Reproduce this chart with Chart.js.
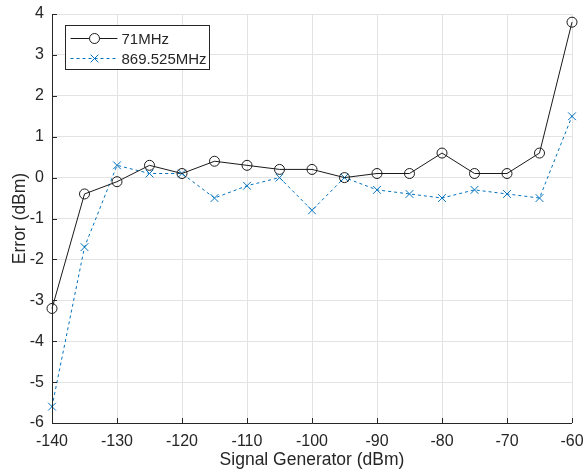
<!DOCTYPE html>
<html>
<head>
<meta charset="utf-8">
<script src="https://cdn.jsdelivr.net/npm/chart.js@4"></script>
<style>
  html, body { margin: 0; padding: 0; background: #fff; }
  #wrap { width: 586px; height: 475px; position: relative; }
</style>
</head>
<body>
<div id="wrap"><canvas id="errChart"></canvas></div>
<script>
// signal generator levels (dBm)
const levels = [-140, -135, -130, -125, -120, -115, -110, -105, -100, -95, -90, -85, -80, -75, -70, -65, -60];
// measured error (dBm)
const err71 = [-3.2, -0.4, -0.1, 0.3, 0.1, 0.4, 0.3, 0.2, 0.2, 0.0, 0.1, 0.1, 0.6, 0.1, 0.1, 0.6, 3.8];
const err869 = [-5.6, -1.7, 0.3, 0.1, 0.1, -0.5, -0.2, 0.0, -0.8, 0.0, -0.3, -0.4, -0.5, -0.3, -0.4, -0.5, 1.5];
const seriesNames = ['71MHz', '869.525MHz'];

const axisColor = '#262626';
const gridColor = '#e3e3e3';
const blue = '#0072BD';
const font = "'Liberation Sans', Arial, sans-serif";

Chart.defaults.font.family = font;
Chart.defaults.color = axisColor;

const toPts = (vals) => vals.map((v, i) => ({ x: levels[i], y: v }));

// MATLAB-like frame: inward ticks, axis lines, boxed legend
const matlabFrame = {
  id: 'matlabFrame',
  afterDatasetsDraw(chart) {
    const { ctx, chartArea: a, scales: { x, y } } = chart;
    ctx.save();
    ctx.strokeStyle = axisColor;
    ctx.lineWidth = 1;
    ctx.beginPath();
    ctx.moveTo(a.left + 0.5, a.top);
    ctx.lineTo(a.left + 0.5, a.bottom + 0.5);
    ctx.lineTo(a.right, a.bottom + 0.5);
    x.ticks.forEach(t => {
      const px = Math.round(x.getPixelForValue(t.value)) + 0.5;
      ctx.moveTo(px, a.bottom);
      ctx.lineTo(px, a.bottom - 5);
    });
    y.ticks.forEach(t => {
      const py = Math.round(y.getPixelForValue(t.value)) + 0.5;
      ctx.moveTo(a.left, py);
      ctx.lineTo(a.left + 5, py);
    });
    ctx.stroke();

    // legend box
    const lx = 65.5, ly = 25.5, lw = 144, lh = 44;
    ctx.fillStyle = '#fff';
    ctx.fillRect(lx, ly, lw, lh);
    ctx.strokeStyle = axisColor;
    ctx.strokeRect(lx, ly, lw, lh);
    ctx.font = '15px ' + font;
    ctx.textBaseline = 'middle';
    chart.data.datasets.forEach((ds, i) => {
      const cy = ly + 13 + i * 20;
      ctx.strokeStyle = ds.borderColor;
      ctx.lineWidth = 1;
      ctx.setLineDash(ds.borderDash || []);
      ctx.beginPath();
      ctx.moveTo(lx + 5, cy);
      ctx.lineTo(lx + 52, cy);
      ctx.stroke();
      ctx.setLineDash([]);
      Chart.helpers.drawPoint(ctx, {
        pointStyle: ds.pointStyle, radius: ds.pointRadius, borderWidth: 1
      }, lx + 29, cy);
      ctx.fillStyle = axisColor;
      ctx.fillText(seriesNames[i], lx + 56, cy + 1);
    });
    ctx.restore();
  }
};

new Chart(document.getElementById('errChart'), {
  type: 'line',
  data: {
    datasets: [
      {
        label: seriesNames[0],
        data: toPts(err71),
        borderColor: '#1a1a1a',
        borderWidth: 1,
        pointStyle: 'circle',
        pointRadius: 5,
        pointBorderWidth: 1,
        pointBorderColor: '#1a1a1a',
        pointBackgroundColor: 'rgba(0,0,0,0)',
        tension: 0,
        fill: false
      },
      {
        label: seriesNames[1],
        data: toPts(err869),
        borderColor: blue,
        borderWidth: 1,
        borderDash: [3, 3],
        pointStyle: 'crossRot',
        pointRadius: 5.5,
        pointBorderWidth: 1,
        pointBorderColor: blue,
        pointBackgroundColor: blue,
        tension: 0,
        fill: false
      }
    ]
  },
  options: {
    responsive: true,
    maintainAspectRatio: false,
    animation: false,
    clip: false,
    layout: { padding: { top: 14, right: 14, left: 0, bottom: 0 } },
    plugins: { legend: { display: false }, tooltip: { enabled: false } },
    scales: {
      x: {
        type: 'linear',
        min: -140, max: -60,
        ticks: { stepSize: 10, padding: 9, font: { size: 16 }, color: axisColor, maxRotation: 0 },
        grid: { color: gridColor, drawTicks: false },
        border: { display: false },
        title: { display: true, text: 'Signal Generator (dBm)', font: { size: 17.5 }, color: axisColor, padding: { top: 3 } },
        afterFit(s) { s.height = 52; s.paddingLeft = 0; s.paddingRight = 0; }
      },
      y: {
        min: -6, max: 4,
        ticks: { stepSize: 1, padding: 8, font: { size: 16 }, color: axisColor },
        grid: { color: gridColor, drawTicks: false },
        border: { display: false },
        title: { display: true, text: 'Error (dBm)', font: { size: 17.5 }, color: axisColor, padding: { top: 10, bottom: 4 } },
        afterFit(s) { s.width = 52; s.paddingTop = 0; s.paddingBottom = 0; }
      }
    }
  },
  plugins: [matlabFrame]
});
</script>
</body>
</html>
